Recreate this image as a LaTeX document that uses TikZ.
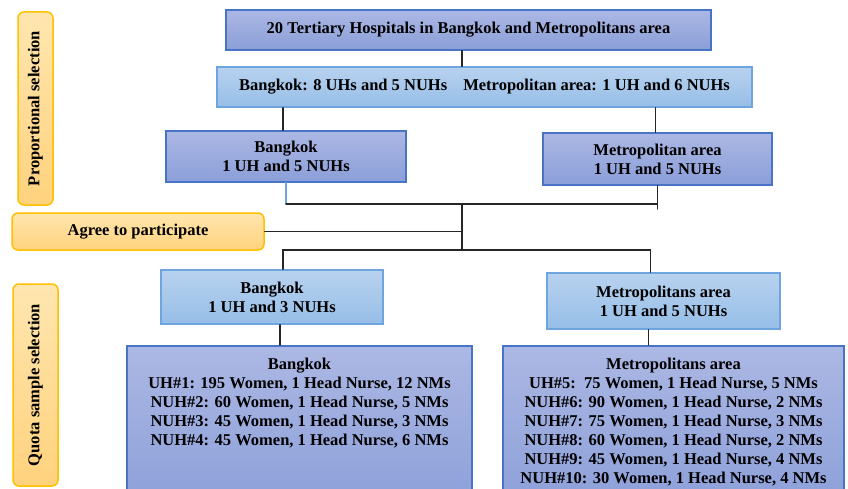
\documentclass[tikz,border=0pt]{standalone}
\usepackage{fontspec}
\setmainfont{Liberation Serif}
\usetikzlibrary{calc}

\definecolor{darkfillA}{RGB}{172,184,228}
\definecolor{darkfillB}{RGB}{138,158,216}
\definecolor{darkline}{RGB}{72,116,198}
\definecolor{lightfillA}{RGB}{184,210,239}
\definecolor{lightfillB}{RGB}{150,190,231}
\definecolor{lightline}{RGB}{110,165,222}
\definecolor{orangeA}{RGB}{255,230,175}
\definecolor{orangeB}{RGB}{255,210,125}
\definecolor{orangeline}{RGB}{255,192,0}

\begin{document}
\begin{tikzpicture}[x=1pt, y=-1pt, line width=1.5pt, line cap=round,
  font=\fontsize{16.5}{19}\selectfont\bfseries,
  darkbox/.style={draw=darkline, top color=darkfillA, bottom color=darkfillB, align=center, inner sep=0pt},
  lightbox/.style={draw=lightline, top color=lightfillA, bottom color=lightfillB, align=center, inner sep=0pt},
  stagebox/.style={draw=orangeline, rounded corners=6pt, top color=orangeA, bottom color=orangeB, align=center, inner sep=0pt},
  link/.style={line width=1.4pt, draw=black!85}]
  \useasboundingbox (0,0) rectangle (848,489);
  \clip (0,0) rectangle (848,489);
  % Stage labels on the left.
  \node[stagebox, rotate=90, minimum width=193pt, minimum height=35pt] (propside) at (35.5,108.5) {Proportional selection};
  \node[stagebox, rotate=90, minimum width=202pt, minimum height=45pt] (quotaside) at (35.5,385) {Quota sample selection};
  \node[stagebox, minimum width=252pt, minimum height=37pt] (agree) at (138,231.5) {Agree to participate};
  % Proportional selection.
  \node[darkbox, minimum width=485pt, minimum height=40pt] (top) at (468.5,30) {20 Tertiary Hospitals in Bangkok and Metropolitans area};
  \node[lightbox, minimum width=535pt, minimum height=40pt] (split) at (484.5,87) {Bangkok: 8 UHs and 5 NUHs\hspace{12pt} Metropolitan area: 1 UH and 6 NUHs};
  \node[darkbox, minimum width=240pt, minimum height=51pt] (bkkprop) at (286,156.5) {Bangkok\\1 UH and 5 NUHs};
  \node[darkbox, minimum width=229pt, minimum height=52pt] (metroprop) at (657.5,159) {Metropolitan area\\1 UH and 5 NUHs};
  % Quota sample selection.
  \node[lightbox, minimum width=222pt, minimum height=54pt] (bkkquota) at (272,297) {Bangkok\\1 UH and 3 NUHs};
  \node[lightbox, minimum width=233pt, minimum height=56pt] (metroquota) at (663.5,301) {Metropolitans area\\1 UH and 5 NUHs};
  \node[darkbox, anchor=north, minimum width=345pt, minimum height=170pt] (bkklist) at (299.5,345) {};
  \node[anchor=north, align=center, inner sep=0pt] (bkklisttext) at ($(bkklist.north)+(0,12)$)
    {Bangkok\\UH\#1: 195 Women, 1 Head Nurse, 12 NMs\\NUH\#2: 60 Women, 1 Head Nurse, 5 NMs\\
     NUH\#3: 45 Women, 1 Head Nurse, 3 NMs\\NUH\#4: 45 Women, 1 Head Nurse, 6 NMs};
  \node[darkbox, anchor=north, minimum width=341pt, minimum height=170pt] (metrolist) at (673.5,345) {};
  \node[anchor=north, align=center, inner sep=0pt] (metrolisttext) at ($(metrolist.north)+(0,12)$)
    {Metropolitans area\\UH\#5:\ \ 75 Women, 1 Head Nurse, 5 NMs\\NUH\#6: 90 Women, 1 Head Nurse, 2 NMs\\
     NUH\#7: 75 Women, 1 Head Nurse, 3 NMs\\NUH\#8: 60 Women, 1 Head Nurse, 2 NMs\\
     NUH\#9: 45 Women, 1 Head Nurse, 4 NMs\\NUH\#10: 30 Women, 1 Head Nurse, 4 NMs};
  % Connectors.
  \coordinate (jprop) at (462,204);
  \coordinate (jquota) at (462,250);
  \draw[link] (top.south -| jprop) -- (split.north -| jprop);
  \draw[link] ([xshift=-3pt]bkkprop.north) -- ([xshift=-3pt]bkkprop.north |- split.south);
  \draw[link] ([xshift=-2pt]metroprop.north) -- ([xshift=-2pt]metroprop.north |- split.south);
  \draw[line width=1.4pt, lightline] (bkkprop.south) -- (bkkprop.south |- jprop);
  \draw[link] (bkkprop.south |- jprop) -- (metroprop.south |- jprop);
  \draw[link] (metroprop.south) -- ([yshift=-5pt]metroprop.south |- jprop);
  \draw[link] (jprop) -- (jquota);
  \draw[link] (agree.east) -- (agree.east -| jprop);
  \draw[link] ([xshift=11pt]bkkquota.north) |- (jquota) -| ([xshift=-13pt]metroquota.north);
  \draw[link] ([xshift=8pt]bkkquota.south) -- ([xshift=8pt]bkkquota.south |- bkklist.north);
  \draw[link] ([xshift=-15pt]metroquota.south) -- ([xshift=-15pt]metroquota.south |- metrolist.north);
\end{tikzpicture}
\end{document}
